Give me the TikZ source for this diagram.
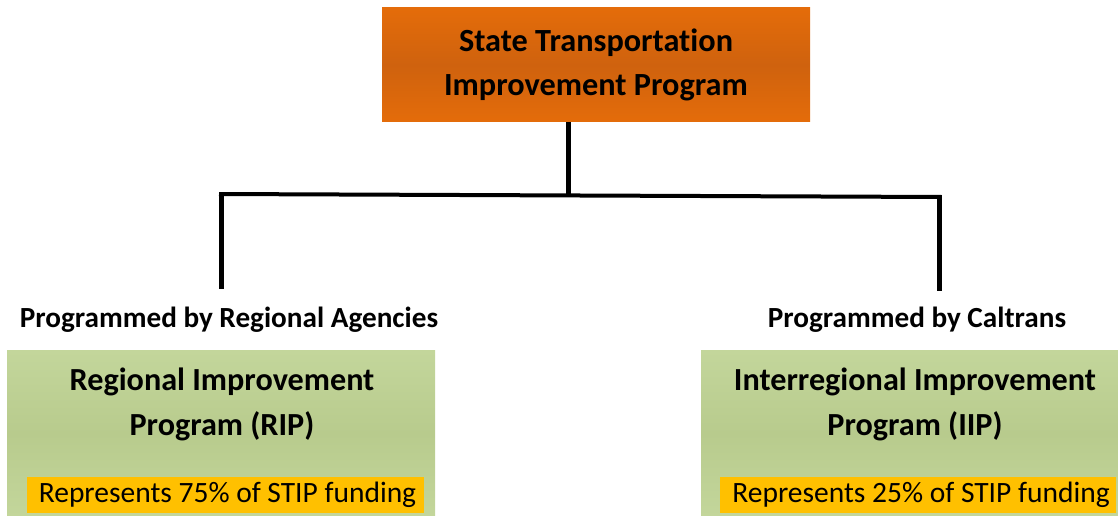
\documentclass[tikz,border=0pt]{standalone}
\usepackage{fontspec}
\setmainfont{Carlito}[Ligatures=NoCommon]
\begin{document}
\begin{tikzpicture}[x=1pt,y=-1pt,
  topbox/.style={inner sep=0pt, minimum width=428pt, minimum height=114pt, top color=orgtop, bottom color=orgtop, middle color=orgmid, align=center, font=\fontsize{32.3}{44}\selectfont\bfseries},
  greenbox/.style={inner sep=0pt, minimum width=428pt, minimum height=166pt, top color=grtop, bottom color=grtop, middle color=grmid},
  gtitle/.style={align=center, inner sep=0pt, font=\fontsize{32.2}{45}\selectfont\bfseries},
  lbl/.style={inner sep=0pt, font=\fontsize{29.2}{30}\selectfont\bfseries},
  pct/.style={fill=pctcol, inner sep=0pt, minimum height=36pt, font=\fontsize{29.5}{30}\selectfont},
  vconn/.style={line width=5pt},
  hconn/.style={line width=4pt}]
\definecolor{orgtop}{HTML}{E46C0A}
\definecolor{orgmid}{HTML}{CF620E}
\definecolor{grtop}{HTML}{C3D69B}
\definecolor{grmid}{HTML}{B8CB8D}
\definecolor{pctcol}{HTML}{FFC000}
\useasboundingbox (0,0) rectangle (1118,516);
\node[topbox] (top) at (596,65) {State Transportation\\Improvement Program};
\node[greenbox] (lg) at (221,433.5) {};
\node[greenbox, minimum width=417pt] (rg) at (909.5,433.5) {};
\node[gtitle] (lt) at (222,404) {Regional Improvement\\Program (RIP)};
\node[gtitle] (rt) at (915,404) {Interregional Improvement\\Program (IIP)};
\node[pct, minimum width=397pt] (lp) at (225.5,495) {\hspace{4pt}Represents 75\% of STIP funding};
\node[pct, minimum width=396pt] (rp) at (918,495) {\hspace{6pt}Represents 25\% of STIP funding};
\node[lbl] (ll) at (229,320) {Programmed by Regional Agencies};
\node[lbl] (rl) at (917,320) {Programmed by Caltrans};
\coordinate (j) at (568,195);
\coordinate (jl) at (219,194);
\coordinate (jr) at (941.5,197);
\coordinate (el) at (221,289);
\coordinate (er) at (939.5,291);
\draw[vconn] (top.south -| j) -- (j);
\draw[hconn] (jl) -- (jr);
\draw[vconn] (221,192) -- (el);
\draw[vconn] (939.5,195) -- (er);
\end{tikzpicture}
\end{document}
